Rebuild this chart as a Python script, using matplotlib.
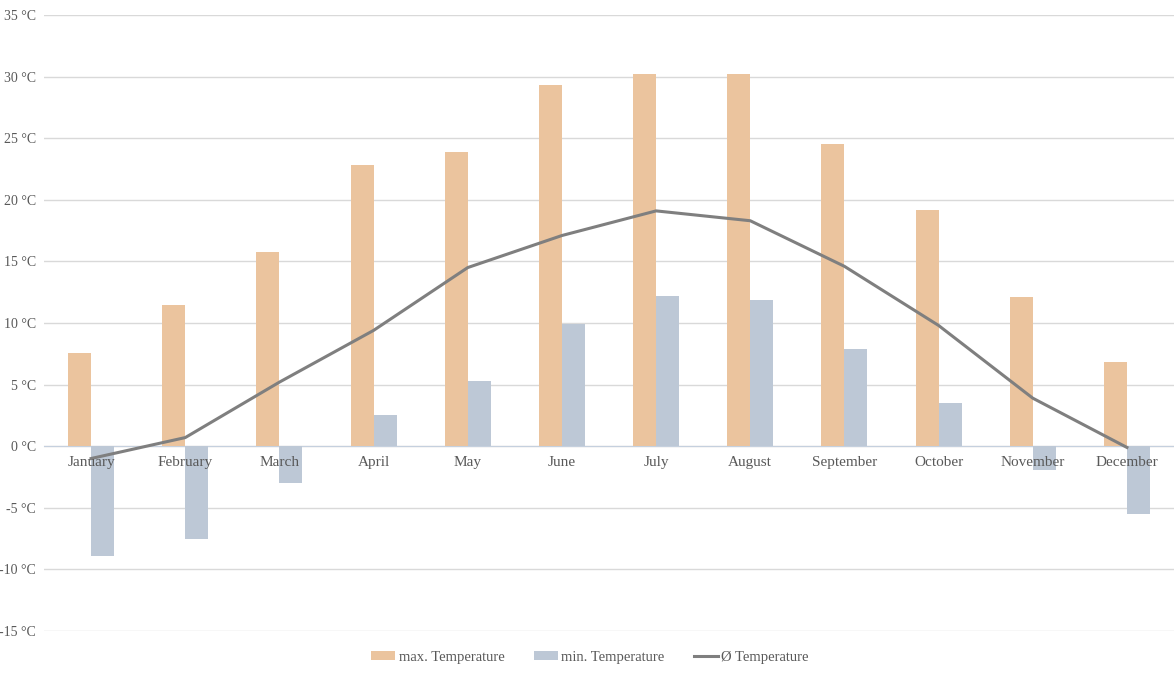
import numpy as np
import matplotlib
matplotlib.use('Agg')
from matplotlib import pyplot as plt

months = ['January', 'February', 'March', 'April', 'May', 'June',
          'July', 'August', 'September', 'October', 'November', 'December']
t_max = [7.6, 11.5, 15.8, 22.8, 23.9, 29.3, 30.2, 30.2, 24.5, 19.2, 12.1, 6.8]
t_min = [-8.9, -7.5, -3.0, 2.5, 5.3, 9.9, 12.2, 11.9, 7.9, 3.5, -1.9, -5.5]
t_avg = [-1.0, 0.7, 5.2, 9.4, 14.5, 17.1, 19.1, 18.3, 14.6, 9.8, 3.9, -0.1]
y_ticks = [-15, -10, -5, 0, 5, 10, 15, 20, 25, 30, 35]

plt.rcParams['font.family'] = ['Liberation Serif', 'DejaVu Serif']
txt_color = '#595959'

fig = plt.figure(figsize=(11.74, 6.75), dpi=100)
ax = fig.add_axes([44 / 1174, 44 / 675, 1 - 44 / 1174, 616 / 675])

x = np.arange(len(months))
w = 0.245
b1 = ax.bar(x - w / 2, t_max, width=w, color='#EBC49E', label='max. Temperature', zorder=2)
b2 = ax.bar(x + w / 2, t_min, width=w, color='#BDC8D6', label='min. Temperature', zorder=2)
l1, = ax.plot(x, t_avg, color='#7F7F7F', linewidth=2.2, label='Ø Temperature', zorder=3)

ax.set_xlim(-0.5, 11.5)
ax.set_ylim(-15, 35)
ax.set_yticks(y_ticks)
ax.set_yticklabels([str(v) + ' °C' for v in y_ticks])
ax.set_xticks(x)
ax.set_xticklabels(months)
ax.grid(axis='y', color='#D9D9D9', linewidth=1)
ax.yaxis.set_zorder(0)
ax.xaxis.set_zorder(4)

for s in ['top', 'right', 'left']:
    ax.spines[s].set_visible(False)
ax.spines['bottom'].set_position(('data', 0))
ax.spines['bottom'].set_color('#C5D0DE')
ax.spines['bottom'].set_zorder(1)
ax.tick_params(axis='both', length=0, labelcolor=txt_color)
ax.tick_params(axis='x', pad=7, labelsize=11)
ax.tick_params(axis='y', pad=6, labelsize=10)

# legend below the plot
leg = fig.legend([b1, b2, l1], ['max. Temperature', 'min. Temperature', 'Ø Temperature'],
                 loc='center', bbox_to_anchor=(590 / 1174, 18 / 675), ncol=3, frameon=False,
                 fontsize=10.5, labelcolor=txt_color, handlelength=1.65, handleheight=0.6,
                 columnspacing=2.0, handletextpad=0.25)

fig.savefig('out.png', dpi=100)
